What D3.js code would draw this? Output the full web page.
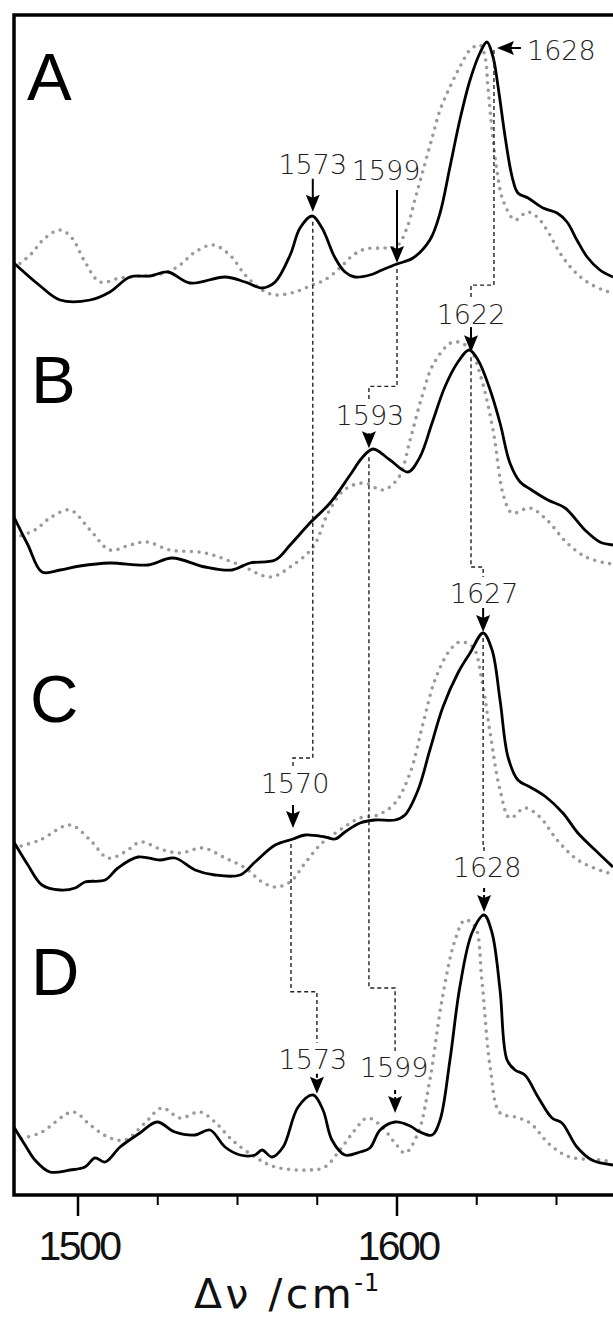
<!DOCTYPE html>
<html>
<head>
<meta charset="utf-8">
<script src="https://cdn.jsdelivr.net/npm/d3@7"></script>
<style>
  body { margin: 0; background: #fff; }
</style>
</head>
<body>
<div id="chart"></div>
<script>
// Raman traces: wavenumber (cm-1) and intensity (a.u.)
const wnASolid  = [1479.9,1487.8,1494.4,1503.8,1510.0,1516.3,1522.6,1528.2,1535.1,1546.1,1552.4,1557.7,1561.8,1566.5,1569.6,1573.4,1576.5,1580.6,1583.7,1586.8,1591.5,1595.3,1600.0,1605.0,1610.3,1613.5,1616.6,1619.7,1622.9,1626.0,1628.2,1630.1,1631.7,1633.9,1636.1,1637.9,1641.1,1645.8,1650.2,1653.3,1656.4,1659.6,1663.6,1667.7];
const intASolid = [0.42,0.20,0.05,0.05,0.13,0.28,0.29,0.33,0.22,0.28,0.23,0.17,0.23,0.50,0.77,0.89,0.77,0.47,0.33,0.28,0.30,0.35,0.41,0.47,0.65,0.92,1.38,1.85,2.25,2.52,2.63,2.48,2.18,1.68,1.28,1.12,1.07,0.97,0.92,0.83,0.65,0.48,0.35,0.28];
const wnADot    = [1479.9,1485.0,1489.7,1494.4,1498.1,1502.2,1506.9,1513.2,1521.0,1527.3,1532.0,1536.7,1542.3,1547.6,1552.4,1557.7,1561.8,1568.0,1573.4,1577.4,1582.1,1585.9,1590.0,1596.2,1600.0,1603.1,1605.6,1608.2,1611.0,1613.5,1616.6,1619.7,1622.9,1626.0,1627.6,1628.5,1629.8,1631.3,1633.2,1637.0,1640.8,1643.9,1647.0,1651.1,1655.2,1659.6,1664.6,1667.7];
const intADot   = [0.37,0.50,0.67,0.75,0.67,0.43,0.23,0.27,0.29,0.32,0.40,0.53,0.60,0.50,0.30,0.15,0.10,0.13,0.20,0.25,0.37,0.49,0.56,0.57,0.59,0.77,1.05,1.35,1.67,1.95,2.18,2.38,2.55,2.60,2.48,2.18,1.75,1.35,1.05,0.85,0.93,0.88,0.75,0.52,0.35,0.23,0.15,0.12];

const wnBSolid  = [1479.9,1484.3,1488.7,1494.4,1500.6,1510.0,1521.9,1529.5,1539.8,1548.3,1553.9,1561.8,1566.5,1572.7,1579.0,1585.3,1589.0,1592.5,1597.8,1603.4,1607.2,1611.0,1615.0,1619.1,1622.6,1625.4,1629.2,1632.3,1635.4,1638.6,1641.7,1647.3,1652.7,1658.9,1663.6,1667.7];
const intBSolid = [0.68,0.40,0.13,0.15,0.19,0.22,0.20,0.27,0.18,0.15,0.22,0.25,0.40,0.62,0.82,1.10,1.27,1.36,1.25,1.13,1.28,1.62,1.98,2.23,2.35,2.25,1.95,1.62,1.22,1.03,0.96,0.85,0.77,0.55,0.43,0.40];
const wnBDot    = [1479.9,1486.5,1491.2,1497.5,1503.8,1510.0,1516.3,1521.6,1528.8,1539.8,1550.8,1560.2,1566.5,1573.7,1578.4,1583.4,1589.7,1595.6,1600.6,1604.1,1607.8,1611.6,1617.6,1622.6,1626.3,1630.1,1633.5,1636.1,1641.7,1647.0,1653.3,1659.2,1665.5,1667.7];
const intBDot   = [0.47,0.55,0.67,0.75,0.55,0.35,0.40,0.43,0.35,0.32,0.20,0.08,0.18,0.38,0.72,0.95,1.02,0.95,1.08,1.45,1.88,2.22,2.43,2.37,2.08,1.55,0.88,0.72,0.77,0.65,0.42,0.28,0.22,0.21];

const wnCSolid  = [1479.9,1484.3,1488.7,1494.4,1499.1,1502.2,1508.5,1512.5,1518.8,1525.7,1530.4,1536.7,1542.9,1550.8,1555.5,1561.8,1567.4,1571.2,1577.4,1580.6,1583.7,1588.4,1593.1,1599.4,1602.5,1606.6,1610.3,1614.4,1619.1,1622.9,1627.0,1629.8,1632.3,1634.8,1637.9,1641.7,1646.7,1652.0,1656.7,1662.1,1667.7];
const intCSolid = [0.53,0.30,0.10,0.05,0.07,0.13,0.15,0.27,0.38,0.35,0.37,0.25,0.20,0.20,0.33,0.50,0.56,0.60,0.58,0.56,0.63,0.72,0.75,0.75,0.80,1.05,1.45,1.88,2.22,2.42,2.62,2.45,1.95,1.38,1.15,1.08,0.98,0.82,0.62,0.45,0.28];
const wnCDot    = [1479.9,1488.1,1497.5,1503.8,1509.4,1514.7,1519.7,1525.7,1532.0,1539.2,1546.1,1552.4,1557.7,1561.8,1566.5,1571.2,1576.5,1582.1,1588.4,1594.0,1599.4,1604.1,1608.2,1611.9,1616.6,1619.7,1623.8,1626.6,1629.2,1632.3,1635.4,1640.1,1644.8,1650.2,1656.7,1665.2,1667.7];
const intCDot   = [0.47,0.55,0.70,0.55,0.37,0.43,0.53,0.46,0.42,0.47,0.37,0.27,0.13,0.08,0.13,0.32,0.52,0.65,0.77,0.80,0.92,1.22,1.72,2.15,2.45,2.53,2.48,2.15,1.62,1.05,0.77,0.87,0.78,0.55,0.35,0.23,0.21];

const wnDSolid  = [1479.9,1483.4,1486.5,1491.2,1497.5,1502.2,1505.3,1508.5,1513.2,1519.4,1524.8,1530.4,1536.7,1541.4,1546.1,1550.8,1555.5,1557.7,1560.8,1564.3,1569.0,1573.7,1576.8,1579.6,1583.7,1588.4,1591.5,1594.7,1599.4,1604.1,1607.2,1611.0,1613.5,1616.6,1619.7,1623.5,1627.3,1629.8,1632.3,1634.5,1637.0,1640.1,1644.2,1648.6,1651.7,1656.4,1661.1,1667.7];
const intDSolid = [0.53,0.35,0.20,0.08,0.10,0.13,0.22,0.18,0.33,0.47,0.58,0.48,0.45,0.50,0.33,0.25,0.25,0.30,0.23,0.33,0.73,0.85,0.70,0.40,0.25,0.28,0.32,0.50,0.58,0.54,0.48,0.45,0.60,1.20,1.93,2.47,2.65,2.47,1.90,1.20,1.10,1.05,0.83,0.62,0.57,0.33,0.20,0.15];
const wnDDot    = [1479.9,1488.1,1498.4,1503.8,1509.4,1514.7,1521.0,1526.3,1532.0,1538.2,1542.9,1548.3,1555.5,1561.8,1572.7,1577.4,1582.1,1586.8,1590.6,1594.7,1599.4,1602.5,1606.6,1610.3,1614.1,1618.2,1621.3,1624.5,1626.6,1629.2,1632.3,1637.0,1641.7,1648.0,1654.2,1663.6,1667.7];
const intDDot   = [0.40,0.47,0.68,0.55,0.43,0.40,0.57,0.72,0.62,0.68,0.58,0.40,0.23,0.13,0.10,0.13,0.30,0.50,0.62,0.55,0.37,0.27,0.47,1.00,1.80,2.40,2.60,2.53,2.00,1.13,0.67,0.63,0.57,0.35,0.23,0.20,0.18];

const panelNames = ["A", "B", "C", "D"];
const xTicksMajor = [1500, 1600];
const xTicksMinor = [1525, 1550, 1575, 1625, 1650];

// peak annotations
const annPanel = ["A", "A", "A", "B", "B", "C", "C", "D", "D", "D"];
const annText  = ["1573", "1599", "1628", "1622", "1593", "1627", "1570", "1628", "1573", "1599"];
const annWn    = [1573.6, 1600.0, 1628.2, 1623.2, 1591.2, 1627.0, 1567.4, 1627.3, 1574.9, 1599.4];
// dashed guides joining the annotations (source index -> target index)
const guideFrom = [0, 6, 1, 4, 2, 3, 5];
const guideTo   = [6, 8, 4, 9, 3, 5, 7];

// ---- layout ----
const W = 613, H = 1319;
const frame = { left: 14, top: 15, bottom: 1195 };
const panelOffset = { A: 8.9, B: 6.1, C: 3.0, D: 0.15 };
const letterY = { A: 100, B: 403, C: 722, D: 995 };
const letterX = { A: 27, B: 31, C: 30, D: 31 };
// tip gap above curve, arrow length, label gap, label dx, dashed shaft
const annLayout = [
  { gap: 5, len: 33, lg: 5, dx: 0 },
  { gap: 1, len: 73, lg: 10, dx: -11 },
  { horiz: true },
  { gap: 0, len: 25, lg: 3, dx: 0 },
  { gap: 4, len: 15, lg: 8, dx: 1 },
  { gap: 1, len: 24, lg: 5, dx: 1 },
  { gap: 11, len: 23, lg: 12, dx: 2 },
  { gap: 3, len: 24, lg: 11, dx: 3, dashed: true },
  { gap: 7, len: 20, lg: 5, dx: -4, dashed: true },
  { gap: 9, len: 23, lg: 13, dx: -1, dashed: true }
];
const guideJog = [14, 56, 18, 68, 18, 15, 8];
const guideSx  = [0, -2, 0, 0, 3, 0, 0];

const series = {
  A: { solid: [wnASolid, intASolid], dot: [wnADot, intADot] },
  B: { solid: [wnBSolid, intBSolid], dot: [wnBDot, intBDot] },
  C: { solid: [wnCSolid, intCSolid], dot: [wnCDot, intCDot] },
  D: { solid: [wnDSolid, intDSolid], dot: [wnDDot, intDDot] }
};

const x = d3.scaleLinear().domain([1500, 1600]).range([78, 397]);
const y = d3.scaleLinear().domain([0, 11.8]).range([frame.bottom, frame.top]);

const svg = d3.select("#chart").append("svg")
  .attr("width", W).attr("height", H)
  .style("background", "#fff");

const defs = svg.append("defs");
defs.append("clipPath").attr("id", "plotClip")
  .append("rect")
  .attr("x", frame.left).attr("y", frame.top)
  .attr("width", W - frame.left + 20).attr("height", frame.bottom - frame.top);

const line = d3.line().curve(d3.curveCatmullRom.alpha(0.5));

function pts(pair, off) {
  return pair[0].map((w, i) => [x(w), y(pair[1][i] + off)]);
}

// curve height (pixels) at a wavenumber, by linear interpolation of the solid trace
function curveY(p, wn) {
  const [wns, ints] = series[p].solid;
  const i = Math.max(1, d3.bisectLeft(wns, wn));
  const t = (wn - wns[i - 1]) / (wns[i] - wns[i - 1]);
  return y(ints[i - 1] + t * (ints[i] - ints[i - 1]) + panelOffset[p]);
}

const plot = svg.append("g").attr("clip-path", "url(#plotClip)");

panelNames.forEach(p => {
  const off = panelOffset[p];
  plot.append("path")
    .attr("d", line(pts(series[p].dot, off)))
    .attr("fill", "none")
    .attr("stroke", "#9a9a9a")
    .attr("stroke-width", 3.6)
    .attr("stroke-linecap", "round")
    .attr("stroke-dasharray", "0,7.6");
  plot.append("path")
    .attr("d", line(pts(series[p].solid, off)))
    .attr("fill", "none")
    .attr("stroke", "#000")
    .attr("stroke-width", 2.8)
    .attr("stroke-linejoin", "round");
});

// annotation geometry
const ann = annText.map((t, i) => {
  const L = annLayout[i], p = annPanel[i];
  const ax = x(annWn[i]);
  const cy = curveY(p, annWn[i]);
  if (L.horiz) {
    return { t, p, ax, cy, horiz: true, tip: cy, labelTop: cy };
  }
  const tip = cy - L.gap;
  const top = tip - L.len;
  const base = top - L.lg;
  return { t, p, ax, cy, tip, top, base, lx: ax + L.dx, labelTop: base - 21, dashed: L.dashed };
});

// dashed guides
const guides = svg.append("g");
guideFrom.forEach((s, k) => {
  const a = ann[s], b = ann[guideTo[k]];
  const sx = a.ax + guideSx[k] + (a.horiz ? 4 : 0);
  const sy = a.horiz ? a.cy + 8 : a.cy + 5;
  const jy = b.labelTop - guideJog[k];
  const ey = b.labelTop - 5;
  const d = d3.path();
  d.moveTo(sx, sy);
  d.lineTo(sx, jy);
  d.lineTo(b.ax, jy);
  d.lineTo(b.ax, ey);
  guides.append("path")
    .attr("d", d.toString())
    .attr("fill", "none")
    .attr("stroke", "#222")
    .attr("stroke-width", 1.4)
    .attr("stroke-dasharray", "4,3");
});

// arrows
function arrowHead(g, tx, ty, dir) {
  // dir: "down" or "left"
  const l = 17, w = 7, n = 3;
  let d;
  if (dir === "down") {
    d = `M${tx},${ty} L${tx - w},${ty - l} L${tx},${ty - l + n} L${tx + w},${ty - l} Z`;
  } else {
    d = `M${tx},${ty} L${tx + l},${ty - w} L${tx + l - n},${ty} L${tx + l},${ty + w} Z`;
  }
  g.append("path").attr("d", d).attr("fill", "#000");
}

const arrows = svg.append("g");
ann.forEach(a => {
  if (a.horiz) {
    const ty = a.cy + 6, tx = a.ax + 10;
    arrows.append("line")
      .attr("x1", tx + 10).attr("x2", tx + 24).attr("y1", ty).attr("y2", ty)
      .attr("stroke", "#000").attr("stroke-width", 2);
    arrowHead(arrows, tx, ty, "left");
    arrows.append("text")
      .attr("class", "ann")
      .attr("x", tx + 30).attr("y", ty + 12)
      .text(a.t);
    return;
  }
  arrows.append("line")
    .attr("x1", a.ax).attr("x2", a.ax)
    .attr("y1", a.top).attr("y2", a.tip - 10)
    .attr("stroke", "#000").attr("stroke-width", 2)
    .attr("stroke-dasharray", a.dashed ? "4,3" : null);
  arrowHead(arrows, a.ax, a.tip, "down");
  arrows.append("text")
    .attr("class", "ann")
    .attr("x", a.lx).attr("y", a.base)
    .attr("text-anchor", "middle")
    .text(a.t);
});

svg.selectAll("text.ann")
  .attr("font-family", "'DejaVu Sans', sans-serif")
  .attr("font-weight", 300)
  .attr("font-size", 27)
  .attr("fill", "#1e1e1e");

// panel letters
svg.selectAll("text.letter")
  .data(panelNames)
  .enter().append("text")
  .attr("class", "letter")
  .attr("x", d => letterX[d])
  .attr("y", d => letterY[d])
  .attr("font-family", "'Liberation Sans', Arial, sans-serif")
  .attr("font-size", 67)
  .attr("fill", "#000")
  .text(d => d);

// frame
svg.append("path")
  .attr("d", `M${W + 10},${frame.top} L${frame.left},${frame.top} L${frame.left},${frame.bottom} L${W + 10},${frame.bottom}`)
  .attr("fill", "none")
  .attr("stroke", "#000")
  .attr("stroke-width", 3.5);

// x axis ticks
const axis = svg.append("g");
axis.selectAll("line.minor")
  .data(xTicksMinor)
  .enter().append("line")
  .attr("x1", d => x(d)).attr("x2", d => x(d))
  .attr("y1", frame.bottom).attr("y2", frame.bottom + 10)
  .attr("stroke", "#000").attr("stroke-width", 2);
axis.selectAll("line.major")
  .data(xTicksMajor)
  .enter().append("line")
  .attr("x1", d => x(d)).attr("x2", d => x(d))
  .attr("y1", frame.bottom).attr("y2", frame.bottom + 21)
  .attr("stroke", "#000").attr("stroke-width", 2.5);
axis.selectAll("text.tick")
  .data(xTicksMajor)
  .enter().append("text")
  .attr("x", d => x(d) + 1)
  .attr("y", frame.bottom + 65)
  .attr("text-anchor", "middle")
  .attr("font-family", "'Liberation Sans', Arial, sans-serif")
  .attr("font-size", 41)
  .attr("letter-spacing", -2.5)
  .attr("fill", "#111")
  .text(d => d);

// axis title
const title = svg.append("text")
  .attr("x", 194)
  .attr("y", 1308)
  .attr("font-family", "'DejaVu Sans', sans-serif")
  .attr("font-size", 41)
  .attr("letter-spacing", 3.5)
  .attr("fill", "#111");
title.append("tspan").text("Δν /cm");
title.append("tspan")
  .attr("font-size", 24)
  .attr("dy", -17)
  .attr("dx", -1)
  .attr("letter-spacing", 1)
  .text("-1");
</script>
</body>
</html>
